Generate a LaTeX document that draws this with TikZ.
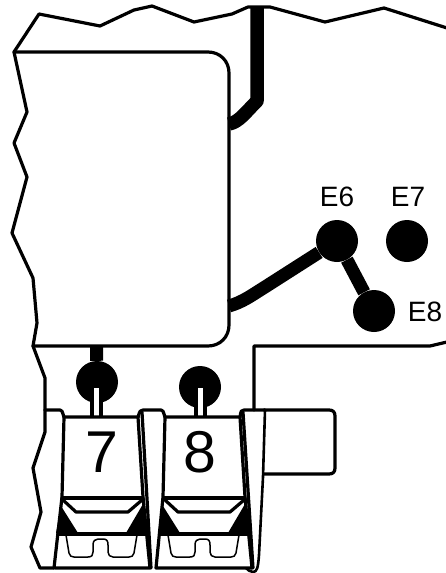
\documentclass[tikz,border=0pt]{standalone}
\usepackage{fontspec}
\setmainfont{Liberation Sans}
\tikzset{
  outl/.style={line width=3.2pt, line join=round, line cap=round},
  thinl/.style={line width=1.5pt, line join=round},
  wire/.style={line width=13pt},
  pin/.style={circle, fill=black, minimum size=42pt, inner sep=0pt},
  lab/.style={font=\fontsize{28}{28}\selectfont, inner sep=0pt},
  num/.style={font=\fontsize{59}{59}\selectfont, inner sep=0pt}
}
\begin{document}
\begin{tikzpicture}[x=1pt,y=-1pt]
\useasboundingbox (0,0) rectangle (446,573);
\fill[white] (0,0) rectangle (446,573);
% outline
\draw[outl] (447,28) -- (384,8) -- (325,22) -- (270,7) -- (248,7) -- (232,14) -- (194,22) -- (152,6) -- (134,10) -- (100,26) -- (39,14) -- (14,52) -- (27,112) -- (14,143) -- (27,177) -- (12,233) -- (33,278) -- (37,323) -- (33,346) -- (45,378) -- (45,410);
% big box
\draw[outl] (14,52) -- (208,52) .. controls (220,52) and (229,61) .. (229,73) -- (229,325) .. controls (229,337) and (220,346) .. (208,346) -- (33,346);
% right region
\draw[outl] (447,342) -- (430,346) -- (254,346) -- (254,410);
\draw[outl] (264,410) -- (329,410) .. controls (333,410) and (335,412) .. (335,416) -- (335,468) .. controls (335,472) and (333,474) .. (329,474) -- (264,474);
% wires
\coordinate (c1) at (229,124);
\coordinate (top) at (257,7);
\draw[line width=13.5pt, line join=round] (top) -- (257,101) .. controls (245,113) and (239,122) .. (c1);
\node[pin] (e6) at (337,241) {};
\node[pin] (e7) at (407,241) {};
\node[pin] (e8) at (374,311) {};
\coordinate (c2) at (229,306);
\draw[wire] (e6) -- (265,287) .. controls (252,295) and (243,302) .. (c2);
\draw[wire] (e6) -- (e8);
\node[lab] (l6) at (337,197) {E6};
\node[lab] (l7) at (408,197) {E7};
\node[lab] (l8) at (425,312) {E8};
% pins
\node[pin] (p7) at (97,382) {};
\node[pin] (p8) at (200,387) {};
\coordinate (b7) at (96.5,346);
\draw[wire] (b7) -- (p7);
\fill (90,395) rectangle (103,417);
\fill (194,395) rectangle (207,417);
\fill[white] (94,388) rectangle (99,417);
\fill[white] (198,388) rectangle (203,417);
% terminal blocks
\draw[outl] (45,410) -- (60,410) .. controls (62,410) and (62,411) .. (64,417) -- (138,417);
\draw[outl] (138,417) .. controls (140,411) and (140,410) .. (143,410) -- (161,410) .. controls (163,410) and (163,411) .. (165,417) -- (240,417);
\draw[outl] (240,417) .. controls (241,411) and (241,410) .. (244,410) -- (265,410);
\draw[outl] (45,410) -- (45,432) -- (33,468) -- (41,512) -- (31,547) -- (40,568) -- (54,568);
\draw[outl] (64,417) -- (62,497) -- (54,568);
\draw[outl] (138,417) -- (143,497) -- (150,568) -- (55,568);
\draw[outl] (142,412) -- (151,568);
\draw[outl] (165,417) -- (163,497) -- (156,568) -- (252,568);
\draw[outl] (240,417) -- (245,497) -- (252,568);
\draw[outl] (243,412) -- (253,568);
\draw[line width=2.6pt, line join=round] (265,410) -- (263,477) -- (259,555) .. controls (258,568) and (257,572) .. (253,572) .. controls (250,572) and (248,570) .. (246,568);
\node[num] (n7) at (102,452) {7};
\node[num] (n8) at (200,452) {8};
% clamps
\foreach \d in {0,102}{
  \begin{scope}[xshift=\d pt]
  \fill (61,506) -- (78,533) -- (56,533) -- cycle;
  \fill (143,504) -- (126,533) -- (148,533) -- cycle;
  \draw[outl] (62,498) -- (143,498);
  \draw[outl] (63,500) -- (76,512) -- (128,512) -- (142,500);
  \draw[thinl] (66,535) -- (69,553) .. controls (70,556) and (71,557) .. (74,557) -- (88,557) .. controls (92,557) and (93,555) .. (93,552) -- (93,545) .. controls (93,541) and (95,539) .. (98,539) -- (103,539) .. controls (107,539) and (108,541) .. (108,545) -- (108,552) .. controls (108,555) and (110,557) .. (113,557) -- (129,557) .. controls (132,557) and (133,556) .. (134,553) -- (137,535);
  \draw[outl] (58,534) -- (147,534);
  \end{scope}
}
\end{tikzpicture}
\end{document}
